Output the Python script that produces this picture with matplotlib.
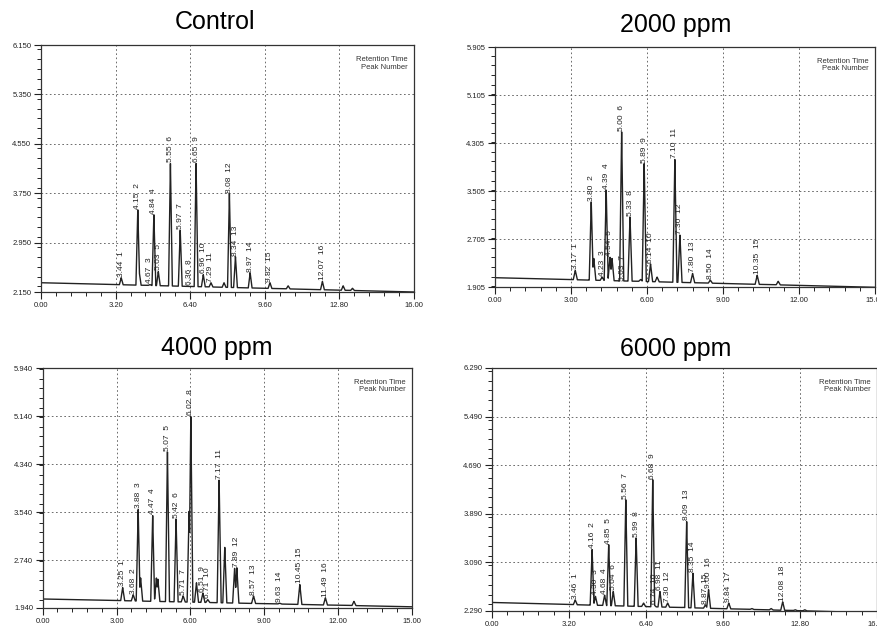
import numpy as np
import matplotlib
matplotlib.use("Agg")
import matplotlib.pyplot as plt
from matplotlib.ticker import MultipleLocator, FixedLocator

plt.rcParams['font.family'] = ['Liberation Sans', 'DejaVu Sans']

# ---- Control ----
ctrl_times = [3.44, 4.15, 4.67, 4.84, 5.03, 5.55, 5.97, 6.36, 6.65, 6.96, 7.29, 8.08, 8.34, 8.97, 9.82, 12.07]
ctrl_heights = [2.38, 3.48, 2.27, 3.40, 2.48, 4.23, 3.15, 2.24, 4.23, 2.43, 2.30, 3.74, 2.72, 2.46, 2.30, 2.32]
ctrl_extra_times = [4.21, 7.85, 10.60, 12.96, 13.36]
ctrl_extra_heights = [2.48, 2.30, 2.25, 2.25, 2.21]
ctrl_baseline = [2.30, 2.15]

# ---- 2000 ppm ----
p2k_times = [3.17, 3.80, 4.23, 4.39, 4.54, 5.00, 5.03, 5.33, 5.89, 6.14, 7.10, 7.30, 7.80, 8.50, 10.35]
p2k_heights = [2.18, 3.32, 2.07, 3.52, 2.40, 4.49, 1.99, 3.07, 3.96, 2.29, 4.03, 2.77, 2.13, 2.02, 2.10]
p2k_extra_times = [3.90, 4.62, 5.75, 6.40, 11.18]
p2k_extra_heights = [2.38, 2.38, 2.03, 2.07, 2.00]
p2k_baseline = [2.06, 1.90]

# ---- 4000 ppm ----
p4k_times = [3.25, 3.68, 3.88, 4.47, 5.07, 5.42, 5.71, 6.02, 6.51, 6.71, 7.17, 7.89, 8.57, 9.63, 10.45, 11.49]
p4k_heights = [2.28, 2.16, 3.58, 3.48, 4.54, 3.42, 2.14, 5.13, 2.19, 2.08, 4.07, 2.61, 2.14, 2.02, 2.33, 2.11]
p4k_extra_times = [3.98, 4.62, 4.68, 5.95, 6.25, 7.40, 7.80, 12.65]
p4k_extra_heights = [2.44, 2.44, 2.42, 3.55, 2.36, 2.95, 2.60, 2.05]
p4k_baseline = [2.09, 1.96]

# ---- 6000 ppm ----
p6k_times = [3.46, 4.16, 4.30, 4.68, 4.85, 5.04, 5.56, 5.99, 6.68, 6.74, 6.98, 7.30, 8.09, 8.35, 8.87, 9.00, 9.84, 12.08]
p6k_heights = [2.47, 3.30, 2.53, 2.55, 3.38, 2.61, 4.12, 3.49, 4.45, 2.39, 2.61, 2.42, 3.76, 2.91, 2.39, 2.64, 2.42, 2.44]
p6k_extra_times = [6.30, 7.95, 10.80, 11.60, 12.60, 13.00]
p6k_extra_heights = [2.42, 2.35, 2.33, 2.33, 2.31, 2.31]
p6k_baseline = [2.43, 2.26]

panels = [
    dict(title="Control", times=ctrl_times, heights=ctrl_heights,
         xt=ctrl_extra_times, xh=ctrl_extra_heights, base=ctrl_baseline,
         xmax=16.0, xstep=3.2, ymin=2.150, rect=[0.0468, 0.5387, 0.4253, 0.3902],
         tpos=(0.245, 0.965)),
    dict(title="2000 ppm", times=p2k_times, heights=p2k_heights,
         xt=p2k_extra_times, xh=p2k_extra_heights, base=p2k_baseline,
         xmax=15.0, xstep=3.0, ymin=1.905, rect=[0.5644, 0.5466, 0.4333, 0.3791],
         tpos=(0.770, 0.960)),
    dict(title="4000 ppm", times=p4k_times, heights=p4k_heights,
         xt=p4k_extra_times, xh=p4k_extra_heights, base=p4k_baseline,
         xmax=15.0, xstep=3.0, ymin=1.940, rect=[0.0487, 0.0395, 0.4208, 0.3791],
         tpos=(0.247, 0.450)),
    dict(title="6000 ppm", times=p6k_times, heights=p6k_heights,
         xt=p6k_extra_times, xh=p6k_extra_heights, base=p6k_baseline,
         xmax=16.0, xstep=3.2, ymin=2.290, rect=[0.561, 0.0348, 0.439, 0.3839],
         tpos=(0.770, 0.449)),
]

HALF_W = 0.08  # peak half width (minutes)


def trace(p):
    times = np.array(p["times"] + p["xt"])
    tops = np.array(p["heights"] + p["xh"])
    x = np.union1d(np.linspace(0, p["xmax"], 6000), times)
    b0, b1 = p["base"]
    base = b0 + (b1 - b0) * x / p["xmax"]
    y = base.copy()
    for t, h in zip(times, tops):
        bt = b0 + (b1 - b0) * t / p["xmax"]
        tri = (h - bt) * np.clip(1 - np.abs(x - t) / HALF_W, 0, None)
        y = np.maximum(y, base + tri)
    return x, y


fig = plt.figure(figsize=(8.77, 6.33), dpi=100)

for p in panels:
    ax = fig.add_axes(p["rect"])
    x, y = trace(p)
    ax.plot(x, y, color='#222222', lw=1.0)

    ymin = p["ymin"]
    ax.set_xlim(0, p["xmax"])
    ax.set_ylim(ymin, ymin + 4.0)
    xt = [i * p["xstep"] for i in range(6)]
    yt = [ymin + 0.8 * i for i in range(6)]
    ax.xaxis.set_major_locator(FixedLocator(xt))
    ax.yaxis.set_major_locator(FixedLocator(yt))
    ax.xaxis.set_minor_locator(MultipleLocator(p["xstep"] / 5))
    ax.yaxis.set_minor_locator(MultipleLocator(0.16))
    ax.set_xticklabels([f"{v:.2f}" for v in xt])
    ax.set_yticklabels([f"{v:.3f}" for v in yt])
    ax.tick_params(axis='both', which='major', direction='out', length=5,
                   width=0.8, labelsize=5.5, colors='#222222', pad=2)
    ax.tick_params(axis='both', which='minor', direction='out', length=3, width=0.6)
    ax.grid(True, which='major', color='#555555', linestyle=(0, (2, 3)), lw=0.6)
    for s in ax.spines.values():
        s.set_linewidth(0.9)
        s.set_color('#333333')

    for t, h, n in zip(p["times"], p["heights"], range(1, len(p["times"]) + 1)):
        ax.text(t, h + 0.02, f"{t:.2f}  {n}", rotation=90, ha='center', va='bottom',
                fontsize=6, color='#222222')

    ax.text(0.984, 0.955, "Retention Time\nPeak Number", transform=ax.transAxes,
            ha='right', va='top', fontsize=5.5, color='#333333', linespacing=1.1)

    fig.text(p["tpos"][0], p["tpos"][1], p["title"], ha='center', va='center', fontsize=18)

fig.savefig("out.png", dpi=100)
